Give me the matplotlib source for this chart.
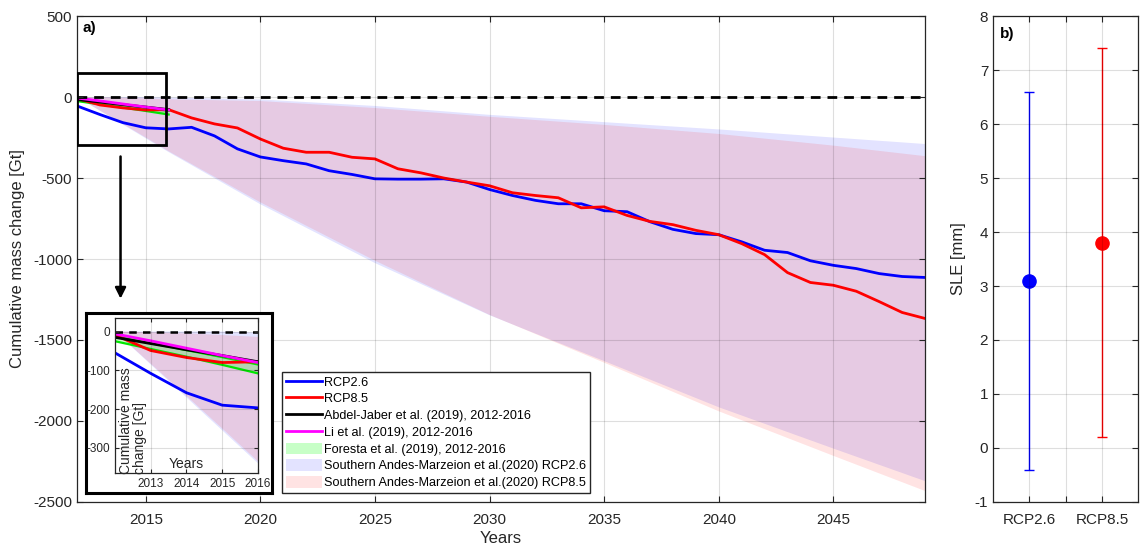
import matplotlib
matplotlib.use("Agg")
import matplotlib.pyplot as plt
import numpy as np
from matplotlib.patches import Patch, Rectangle
from matplotlib.lines import Line2D

plt.rcParams['font.family'] = ['Liberation Sans', 'DejaVu Sans']
plt.rcParams['axes.unicode_minus'] = False

# modelled cumulative mass change [Gt]
years = np.arange(2012, 2050)
rcp26 = [-55, -108, -158, -190, -197, -187, -240, -320, -370, -393, -413, -455, -478,
         -505, -507, -507, -505, -525, -571, -608, -638, -659, -659, -702, -708, -770,
         -817, -843, -850, -894, -946, -960, -1011, -1039, -1059, -1090, -1108, -1114]
rcp85 = [-9, -49, -67, -80, -78, -129, -166, -191, -259, -316, -341, -341, -372,
         -382, -443, -468, -500, -525, -548, -591, -608, -622, -684, -678, -731, -768,
         -788, -823, -850, -905, -973, -1084, -1145, -1162, -1199, -1263, -1330, -1367]

# observations 2012-2016
obs_years = [2012, 2013, 2014, 2015, 2016]
abdel = [-15, -31, -47, -62, -78]
li = [-6, -24, -43, -62, -80]
foresta_hi = [-12, -30, -48, -66, -85]
foresta_lo = [-25, -45, -65, -86, -108]

# Marzeion et al. (2020) ranges
band_years = [2012, 2013, 2014, 2015, 2016, 2020, 2025, 2030, 2035, 2040, 2045, 2049]
m26_hi = [0, 0, 0, 0, -3, -15, -55, -110, -155, -200, -250, -290]
m26_lo = [0, -85, -170, -255, -340, -662, -1025, -1347, -1630, -1915, -2170, -2371]
m85_hi = [0, -2, -5, -9, -14, -25, -68, -122, -172, -228, -300, -365]
m85_lo = [0, -83, -166, -250, -335, -650, -1010, -1345, -1640, -1940, -2215, -2432]

# panel b: sea level equivalent [mm]
scen = ['RCP2.6', 'RCP8.5']
sle_mid = [3.1, 3.8]
sle_low = [-0.4, 0.2]
sle_high = [6.6, 7.4]

AXC = '#262626'
BLUE_F = (0, 0, 1, 0.11)
RED_F = (1, 0, 0, 0.11)
GREEN_F = (0, 1, 0, 0.22)
GREEN = '#00e600'
MAG = '#ff00ff'


def style(ax, fs):
    ax.tick_params(direction='in', top=True, right=True, labelsize=fs, colors=AXC,
                   length=4, width=0.8)
    for s in ax.spines.values():
        s.set_color(AXC)
        s.set_linewidth(0.9)
    ax.grid(True, color='k', alpha=0.13, lw=0.8)
    ax.set_axisbelow(False)


def draw_series(ax):
    ax.fill_between(band_years, m26_lo, m26_hi, facecolor=BLUE_F, lw=0)
    ax.fill_between(band_years, m85_lo, m85_hi, facecolor=RED_F, lw=0)
    ax.fill_between(obs_years, foresta_lo, foresta_hi, facecolor=GREEN_F, lw=0)
    ax.plot(obs_years, foresta_hi, color=GREEN, lw=1.6)
    ax.plot(obs_years, foresta_lo, color=GREEN, lw=1.6)
    ax.plot(years, rcp26, color='b', lw=2)
    ax.plot(years, rcp85, color='r', lw=2)
    ax.plot(obs_years, abdel, color='k', lw=2)
    ax.plot(obs_years, li, color=MAG, lw=2)


fig = plt.figure(figsize=(11.44, 5.47), dpi=100)

ax = fig.add_axes([0.0673, 0.0823, 0.7413, 0.8884])
draw_series(ax)
ax.axhline(0, color='k', lw=2, dashes=(3.5, 2.5))
ax.set_xlim(2012, 2049)
ax.set_ylim(-2500, 500)
ax.set_xticks(range(2015, 2050, 5))
ax.set_yticks(range(-2500, 501, 500))
style(ax, 11)
ax.tick_params(axis='x', pad=8)
ax.set_xlabel('Years', fontsize=12, color=AXC, labelpad=3)
ax.set_ylabel('Cumulative mass change [Gt]', fontsize=12, color=AXC, labelpad=6)
ax.text(0.007, 0.975, 'a)', transform=ax.transAxes, fontsize=11, fontweight='bold',
        va='center', ha='left')

# zoom box and arrow
ax.add_patch(Rectangle((2012, -296), 3.9, 444, fill=False, ec='k', lw=2, zorder=5))
ax.annotate('', xy=(2013.9, -1262), xytext=(2013.9, -350),
            arrowprops=dict(arrowstyle='-|>', color='k', lw=1.8, mutation_scale=16))

handles = [Line2D([], [], color='b', lw=2), Line2D([], [], color='r', lw=2),
           Line2D([], [], color='k', lw=2), Line2D([], [], color=MAG, lw=2),
           Patch(facecolor=GREEN_F, lw=0), Patch(facecolor=BLUE_F, lw=0),
           Patch(facecolor=RED_F, lw=0)]
labels = ['RCP2.6', 'RCP8.5', 'Abdel-Jaber et al. (2019), 2012-2016',
          'Li et al. (2019), 2012-2016', 'Foresta et al. (2019), 2012-2016',
          'Southern Andes-Marzeion et al.(2020) RCP2.6',
          'Southern Andes-Marzeion et al.(2020) RCP8.5']
leg = ax.legend(handles, labels, loc='lower left', bbox_to_anchor=(0.2417, 0.0185),
                borderaxespad=0, fontsize=9.1, frameon=True, fancybox=False,
                edgecolor=AXC, framealpha=1, labelspacing=0.3, handlelength=2.9,
                handleheight=1.0, handletextpad=0.15, borderpad=0.3)
leg.get_frame().set_linewidth(1.0)

# inset
box = fig.add_axes([0.0752, 0.0987, 0.1626, 0.329])
box.set_xticks([])
box.set_yticks([])
for s in box.spines.values():
    s.set_linewidth(2.2)
    s.set_color('k')

ins = fig.add_axes([0.1005, 0.1353, 0.125, 0.2834])
draw_series(ins)
ins.axhline(0, color='k', lw=1.8, dashes=(3, 2.5))
ins.set_xlim(2012, 2016)
ins.set_ylim(-365, 35)
ins.set_xticks([2013, 2014, 2015, 2016])
ins.set_yticks([-300, -200, -100, 0])
style(ins, 8.5)
ins.tick_params(length=3)
ins.text(0.03, 0.34, 'Cumulative mass\nchange [Gt]', transform=ins.transAxes,
         rotation=90, fontsize=10, ha='left', va='center', color=AXC, linespacing=1.0)
ins.text(0.5, 0.015, 'Years', transform=ins.transAxes, fontsize=10, ha='center',
         va='bottom', color=AXC)

# panel b
bx = fig.add_axes([0.868, 0.0823, 0.127, 0.8884])
cols = ['b', 'r']
for i in range(2):
    x = i + 1
    bx.errorbar([x], [sle_mid[i]], yerr=[[sle_mid[i] - sle_low[i]], [sle_high[i] - sle_mid[i]]],
                fmt='o', color=cols[i], ms=9.5, lw=1, capsize=3.5, capthick=1)
bx.set_xlim(0.5, 2.5)
bx.set_ylim(-1, 8)
bx.set_xticks([1, 1.5, 2])
bx.set_xticklabels([scen[0], '', scen[1]])
bx.set_yticks(range(-1, 9))
style(bx, 11)
bx.tick_params(axis='x', pad=8)
bx.set_ylabel('SLE [mm]', fontsize=12, color=AXC, labelpad=6)
bx.text(0.05, 0.962, 'b)', transform=bx.transAxes, fontsize=11, fontweight='bold',
        va='center', ha='left')

fig.savefig('out.png', dpi=100)
